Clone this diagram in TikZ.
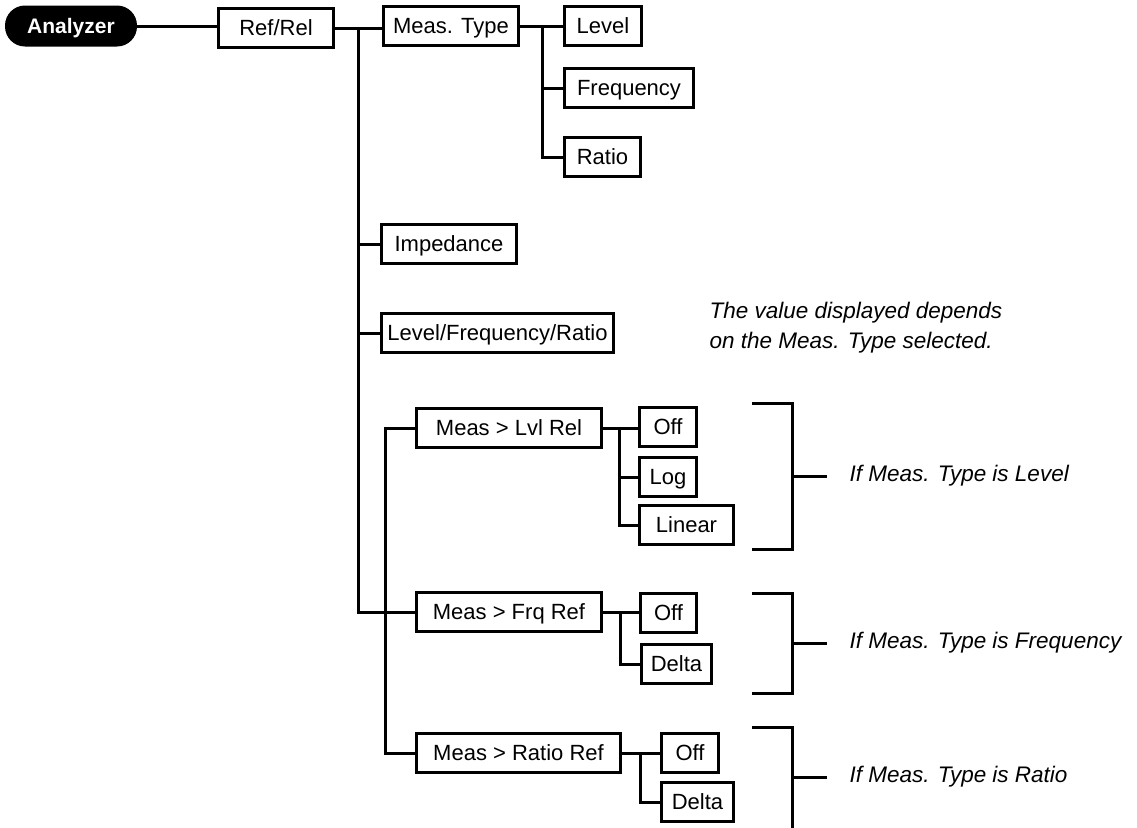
\documentclass[tikz,border=0pt]{standalone}
\usepackage{fontspec}
\setmainfont{Liberation Sans}
\begin{document}
\begin{tikzpicture}[x=1pt,y=-1pt,
  conn/.style={draw, line width=3pt},
  box/.style={draw, line width=3pt, anchor=west, minimum height=39pt, inner xsep=3pt, inner ysep=0pt, text height=18pt, text depth=3pt, font=\fontsize{22}{26}\selectfont},
  pill/.style={fill=black, text=white, rounded corners=20pt, minimum width=132pt, minimum height=41pt, inner sep=0pt, text height=17pt, text depth=3pt, font=\fontsize{21}{25}\selectfont\bfseries},
  note/.style={anchor=west, align=left, font=\fontsize{22.5}{30}\selectfont\itshape}
]
\useasboundingbox (0,0) rectangle (1137,827);

% nodes
\node[pill] (ana) at (71,26) {Analyzer};
\node[box, minimum width=115pt] (ref) at (217,28) {Ref/Rel};
\node[box, minimum width=135pt] (mtype) at (382,26) {Meas. Type};
\node[box, minimum width=77pt] (level) at (563,26) {Level};
\node[box, minimum width=129pt] (freq) at (563,88) {Frequency};
\node[box, minimum width=76pt] (ratio) at (563,157) {Ratio};
\node[box, minimum width=135pt] (imp) at (380,244) {Impedance};
\node[box, minimum width=232pt] (lfr) at (380,333) {Level/Frequency/Ratio};
\node[box, minimum width=185pt] (lvlrel) at (415,428) {Meas > Lvl Rel};
\node[box, minimum width=57pt] (off1) at (638,427) {Off};
\node[box, minimum width=57pt] (log) at (638,477) {Log};
\node[box, minimum width=94pt] (linear) at (638,525) {Linear};
\node[box, minimum width=185pt] (frqref) at (415,612) {Meas > Frq Ref};
\node[box, minimum width=56pt] (off2) at (639,613) {Off};
\node[box, minimum width=70pt] (delta2) at (640,664) {Delta};
\node[box, minimum width=204pt] (ratioref) at (415,753) {Meas > Ratio Ref};
\node[box, minimum width=57pt] (off3) at (660,753) {Off};
\node[box, minimum width=72pt] (delta3) at (660,802) {Delta};

\node[note] (n0) at (706,328) {The value displayed depends\\on the Meas. Type selected.};
\node[note] (n1) at (846,476) {If Meas. Type is Level};
\node[note] (n2) at (846,643) {If Meas. Type is Frequency};
\node[note] (n3) at (846,777) {If Meas. Type is Ratio};

% junction coordinates
\coordinate (j1) at (358,0);
\coordinate (j2) at (385,0);
\coordinate (j3) at (542,0);
\coordinate (j4) at (619,0);
\coordinate (j5) at (620,0);
\coordinate (j6) at (640,0);

% connectors
\path[conn] (ana.east) -- (ana.east -| ref.west);
\path[conn] (ref.east) -- (ref.east -| mtype.west);
\path[conn] (j1 |- ref.east) -- (j1 |- frqref.west) -- (frqref.west);
\path[conn] (j1 |- imp.west) -- (imp.west);
\path[conn] (j1 |- lfr.west) -- (lfr.west);
\path[conn] (lvlrel.west) -- (j2 |- lvlrel.west) -- (j2 |- ratioref.west) -- (ratioref.west);

\path[conn] (mtype.east) -- (level.west |- mtype.east);
\path[conn] (j3 |- mtype.east) -- (j3 |- ratio.west) -- (ratio.west);
\path[conn] (j3 |- freq.west) -- (freq.west);

\path[conn] (lvlrel.east) -- (off1.west |- lvlrel.east);
\path[conn] (j4 |- lvlrel.east) -- (j4 |- linear.west) -- (linear.west);
\path[conn] (j4 |- log.west) -- (log.west);

\path[conn] (frqref.east) -- (off2.west |- frqref.east);
\path[conn] (j5 |- frqref.east) -- (j5 |- delta2.west) -- (delta2.west);

\path[conn] (ratioref.east) -- (off3.west |- ratioref.east);
\path[conn] (j6 |- ratioref.east) -- (j6 |- delta3.west) -- (delta3.west);

% brackets
\path[conn] (752,403) -- (792,403) -- (792,549) -- (752,549);
\coordinate (b1) at (792,476);
\path[conn] (b1) -- ++(35,0);
\path[conn] (752,593) -- (792,593) -- (792,693) -- (752,693);
\coordinate (b2) at (792,643);
\path[conn] (b2) -- ++(35,0);
\path[conn] (752,727) -- (792,727) -- (792,830);
\coordinate (b3) at (792,777);
\path[conn] (b3) -- ++(35,0);
\end{tikzpicture}
\end{document}
